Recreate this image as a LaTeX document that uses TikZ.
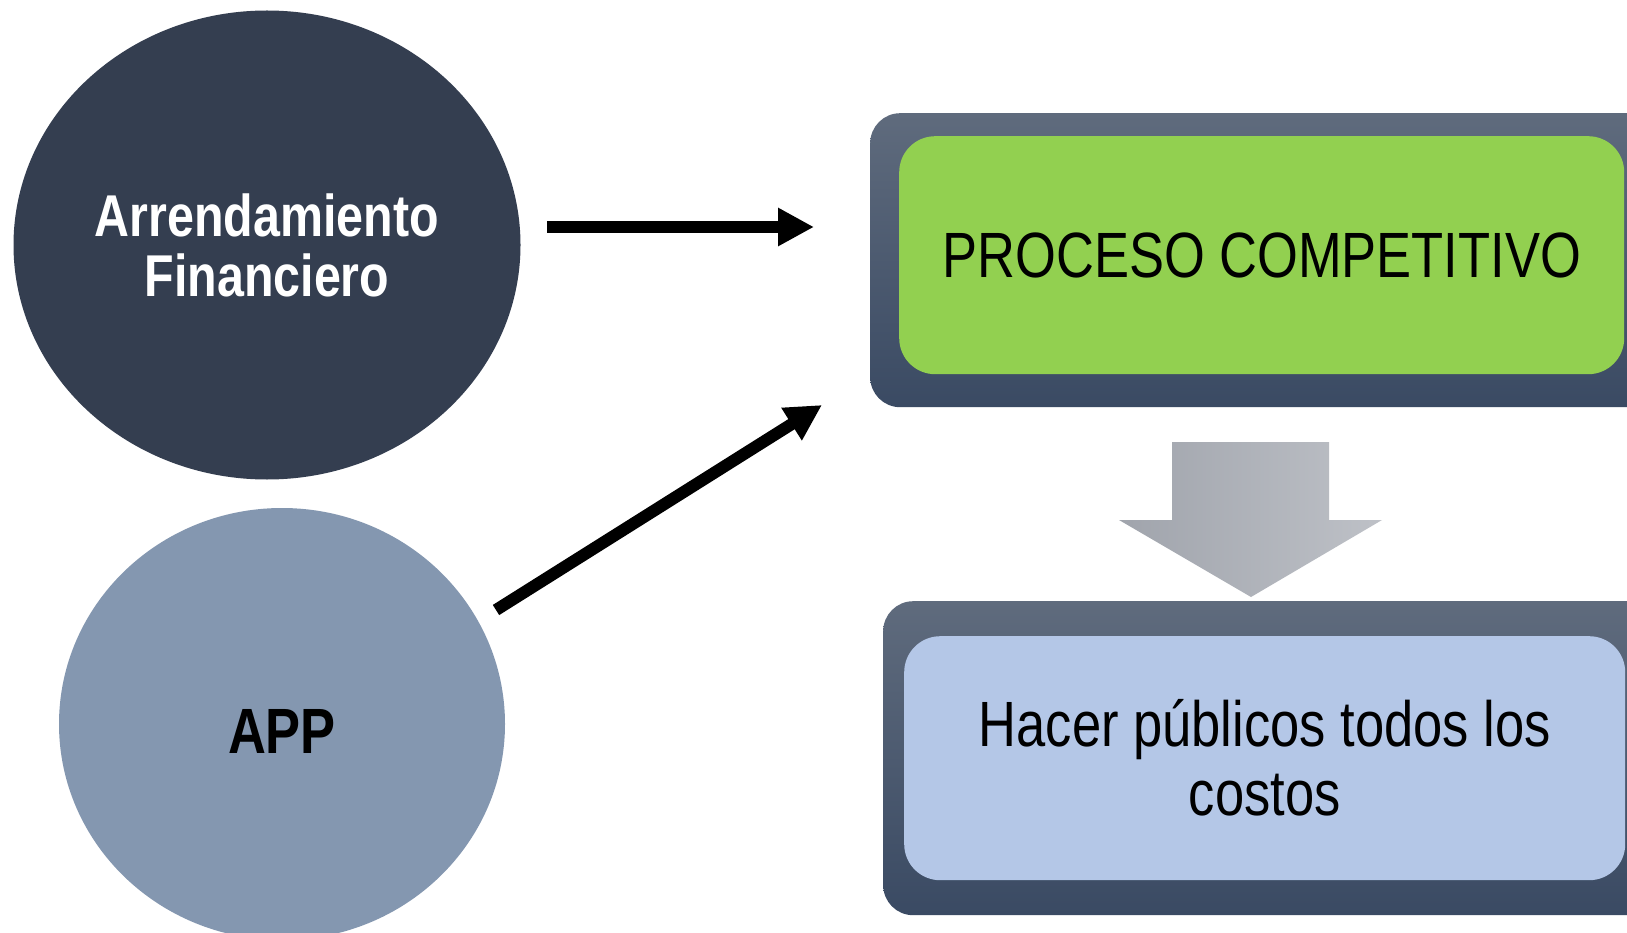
\documentclass[tikz,border=0pt]{standalone}
\usepackage{fontspec}
\newfontfamily\estrecha[FakeStretch=0.82]{Liberation Sans}
\usetikzlibrary{shapes.geometric,arrows.meta}
\definecolor{azulosc}{HTML}{343E50}
\definecolor{azulgris}{HTML}{8497B0}
\definecolor{marcoarr}{HTML}{5F6B7D}
\definecolor{marcoab}{HTML}{3A4A63}
\definecolor{verde}{HTML}{92D050}
\definecolor{celeste}{HTML}{B4C7E7}
\definecolor{grisiz}{HTML}{A0A4AC}
\definecolor{grisde}{HTML}{BEC1C7}
\tikzset{
	circulo/.style={ellipse, inner sep=0pt, align=center},
	marco/.style={rounded corners=30pt, top color=marcoarr, bottom color=marcoab, inner sep=0pt, anchor=north west},
	caja/.style={rounded corners=36pt, inner sep=0pt, align=center, anchor=north west},
	flecha/.style={line width=12pt, -{Triangle[length=36pt,width=36pt]}}
}

\begin{document}
\begin{tikzpicture}[x=1pt,y=-1pt]
		\clip (0,0) rectangle (1627,933);
		\fill [white] (0,0) rectangle (1627,933);
		% circulos
		\node [circulo, fill=azulosc, minimum width=507pt, minimum height=469pt, text=white,
			font=\estrecha\bfseries\fontsize{59}{60}\selectfont] (arrend) at (267,245) {Arrendamiento\\Financiero};
		\node [circulo, fill=azulgris, minimum width=446pt, minimum height=432pt, text height=58pt,
			font=\estrecha\bfseries\fontsize{64}{70}\selectfont] (app) at (282,724) {APP};
		% cajas
		\node [marco, minimum width=800pt, minimum height=294pt] (marco1) at (870,113) {};
		\node [caja, fill=verde, minimum width=725pt, minimum height=238pt,
			font=\estrecha\fontsize{64}{70}\selectfont] (proceso) at (899,136) {PROCESO COMPETITIVO};
		\node [marco, minimum width=800pt, minimum height=314pt] (marco2) at (883,601) {};
		\node [caja, fill=celeste, minimum width=721pt, minimum height=244pt,
			font=\estrecha\fontsize{64}{69}\selectfont] (costos) at (904,636) {Hacer públicos todos los\\costos};
		% flechas
		\coordinate (f1a) at (547,227);
		\coordinate (f1b) at (814,227);
		\coordinate (f2a) at (496,610);
		\coordinate (f2b) at (822,405);
		\draw [flecha] (f1a) -- (f1b);
		\draw [flecha] (f2a) -- (f2b);
		\shade [left color=grisiz, right color=grisde] (1172,442) -- (1329,442) -- (1329,520) -- (1382,520)
			-- (1251,597) -- (1119,520) -- (1172,520) -- cycle;
\end{tikzpicture}
\end{document}
